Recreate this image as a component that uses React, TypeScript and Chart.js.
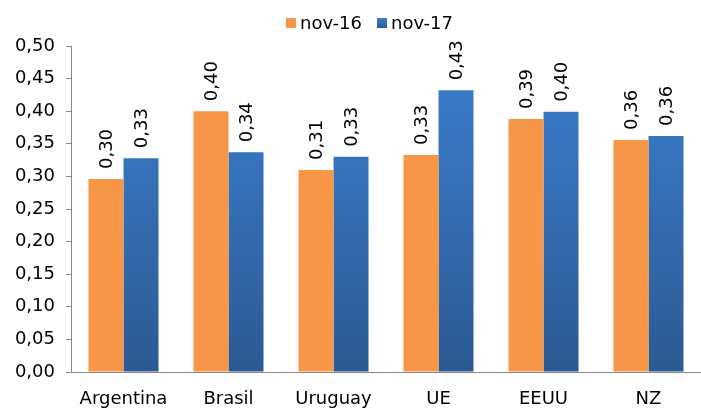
import React, { useEffect, useRef } from "react";
import { Chart, registerables } from "chart.js";

Chart.register(...registerables);

const categories = ["Argentina", "Brasil", "Uruguay", "UE", "EEUU", "NZ"];
const seriesNames = ["nov-16", "nov-17"];
const nov16 = [0.296, 0.4, 0.31, 0.333, 0.388, 0.356];
const nov17 = [0.328, 0.337, 0.33, 0.432, 0.399, 0.362];
const yMin = 0;
const yMax = 0.5;
const yStep = 0.05;

const FONT = "'DejaVu Sans', sans-serif";
const ORANGE = "#F79646";
const BLUE_TOP = "#3D80D0";
const BLUE_BOTTOM = "#2C5A93";

const fmt = (v: number) => Number(v).toFixed(2).replace(".", ",");

const blueGradient = (ctx: any) => {
  const chart = ctx.chart;
  const area = chart.chartArea;
  if (!area) return BLUE_TOP;
  const g = chart.ctx.createLinearGradient(0, area.top, 0, area.bottom);
  g.addColorStop(0, BLUE_TOP);
  g.addColorStop(1, BLUE_BOTTOM);
  return g;
};

const valueLabels = {
  id: "valueLabels",
  afterDatasetsDraw(chart: any) {
    const ctx = chart.ctx;
    ctx.save();
    ctx.font = `18px ${FONT}`;
    ctx.fillStyle = "#000";
    ctx.textAlign = "left";
    ctx.textBaseline = "middle";
    chart.data.datasets.forEach((ds: any, i: number) => {
      const meta = chart.getDatasetMeta(i);
      meta.data.forEach((bar: any, j: number) => {
        ctx.save();
        ctx.translate(bar.x + 1, bar.y - 10);
        ctx.rotate(-Math.PI / 2);
        ctx.fillText(fmt(ds.data[j]), 0, 0);
        ctx.restore();
      });
    });
    ctx.restore();
  },
};

const customLegend = {
  id: "customLegend",
  afterDraw(chart: any) {
    const ctx = chart.ctx;
    ctx.save();
    ctx.font = `18px ${FONT}`;
    ctx.textBaseline = "middle";
    ctx.textAlign = "left";
    let x = 286;
    const y = 23;
    const colors = [ORANGE, BLUE_TOP];
    seriesNames.forEach((name, i) => {
      if (i === 1) {
        const g = ctx.createLinearGradient(0, y - 5, 0, y + 5);
        g.addColorStop(0, BLUE_TOP);
        g.addColorStop(1, BLUE_BOTTOM);
        ctx.fillStyle = g;
      } else {
        ctx.fillStyle = colors[i];
      }
      ctx.fillRect(x, y - 5, 10, 10);
      ctx.fillStyle = "#000";
      ctx.fillText(name, x + 14, y + 1);
      x += 14 + ctx.measureText(name).width + 15;
    });
    ctx.restore();
  },
};

export default function App() {
  const ref = useRef<HTMLCanvasElement>(null);
  useEffect(() => {
    document.body.style.margin = "0";
    const chart = new Chart(ref.current!, {
      type: "bar",
      data: {
        labels: categories,
        datasets: [
          {
            label: seriesNames[0],
            data: nov16,
            backgroundColor: ORANGE,
            borderWidth: 0,
            categoryPercentage: 0.667,
            barPercentage: 1,
          },
          {
            label: seriesNames[1],
            data: nov17,
            backgroundColor: blueGradient,
            borderWidth: 0,
            categoryPercentage: 0.667,
            barPercentage: 1,
          },
        ],
      },
      options: {
        animation: false,
        responsive: false,
        maintainAspectRatio: false,
        layout: { padding: { top: 46, right: 0, left: 0, bottom: 0 } },
        plugins: {
          legend: { display: false },
          tooltip: { enabled: false },
        },
        scales: {
          x: {
            grid: { display: false, drawTicks: false },
            border: { display: true, color: "#868686", width: 1 },
            ticks: {
              color: "#000",
              font: { family: FONT, size: 18 },
              padding: 17,
              maxRotation: 0,
            },
            afterFit(scale: any) {
              scale.height = 38;
            },
          },
          y: {
            min: yMin,
            max: yMax,
            grid: {
              display: true,
              drawOnChartArea: false,
              drawTicks: true,
              tickLength: 5,
              color: "#868686",
            },
            border: { display: true, color: "#868686", width: 1 },
            ticks: {
              stepSize: yStep,
              color: "#000",
              font: { family: FONT, size: 18 },
              padding: 11,
              callback: (v: any) => fmt(v),
            },
            afterFit(scale: any) {
              scale.width = 71;
            },
          },
        },
      },
      plugins: [valueLabels, customLegend],
    });
    return () => chart.destroy();
  }, []);
  return (
    <div style={{ width: 701, height: 410 }}>
      <canvas ref={ref} width={701} height={410} style={{ display: "block" }} />
    </div>
  );
}
